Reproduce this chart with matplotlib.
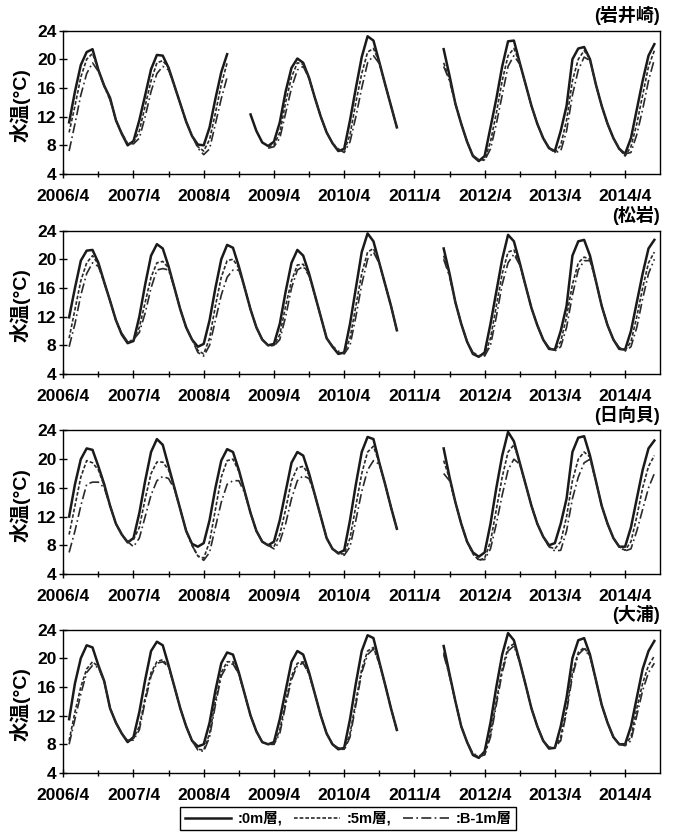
import numpy as np
import matplotlib
matplotlib.use('Agg')
import matplotlib.pyplot as plt
from matplotlib.lines import Line2D

plt.rcParams['font.family'] = ['Liberation Sans', 'Noto Sans CJK JP']

n = np.nan
G = [n] * 7  # 2011/2 - 2011/8: no observations

# monthly values, 2006/5 .. 2014/9
stations = ['(岩井崎)', '(松岩)', '(日向貝)', '(大浦)']

iwai_0 = ([11.2, 15.5, 19.2, 21.0, 21.4, 18.5, 16.3, 14.6] +
          [11.5, 9.6, 8.0, 8.6, 11.5, 15.0, 18.6, 20.6, 20.5, 18.8, 16.3, 13.8] +
          [11.3, 9.3, 8.1, 8.0, 10.5, 14.5, 18.2, 20.7, n, n, n, 12.3] +
          [10.0, 8.4, 7.9, 8.5, 11.2, 15.5, 18.8, 20.1, 19.5, 17.4, 14.6, 12.0] +
          [9.8, 8.3, 7.2, 7.5, 11.5, 16.0, 20.3, 23.2, 22.6, 19.6, 16.5, 13.5] +
          [10.5] + G + [21.4, 17.7, 13.8, 11.0] +
          [8.5, 6.5, 5.8, 6.5, 10.5, 14.5, 19.0, 22.5, 22.6, 19.5, 16.5, 13.5] +
          [11.0, 9.0, 7.6, 7.2, 10.0, 13.5, 20.0, 21.5, 21.7, 20.0, 16.5, 13.5] +
          [11.0, 9.0, 7.5, 6.8, 9.0, 13.0, 17.0, 20.5, 22.1])
iwai_5 = ([9.8, 13.5, 17.5, 20.0, 20.8, 18.5, 16.3, 14.5] +
          [11.5, 9.6, 8.2, 8.4, 10.0, 13.5, 17.0, 19.5, 19.8, 18.8, 16.3, 13.8] +
          [11.3, 9.3, 7.8, 7.2, 8.8, 12.5, 16.5, 19.5, n, n, n, n] +
          [n, n, 7.8, 8.0, 9.8, 14.0, 17.5, 19.5, 19.3, 17.4, 14.6, 12.0] +
          [9.8, 8.3, 7.3, 7.2, 9.5, 14.0, 18.0, 21.0, 21.5, 19.6, 16.5, 13.5] +
          [10.5] + G + [19.5, 17.2, 13.8, 11.0] +
          [8.5, 6.5, 5.9, 6.0, 8.5, 12.5, 17.0, 20.5, 21.5, 19.5, 16.5, 13.5] +
          [11.0, 9.0, 7.6, 7.0, 8.0, 11.5, 17.0, 20.0, 21.2, 20.0, 16.5, 13.5] +
          [11.0, 9.0, 7.5, 6.5, 7.8, 11.0, 15.0, 19.0, 21.2])
iwai_b = ([7.2, 11.0, 15.0, 18.0, 19.5, 18.3, 16.2, 14.3] +
          [11.5, 9.7, 8.3, 8.2, 9.0, 12.0, 15.5, 18.0, 19.0, 18.5, 16.2, 13.8] +
          [11.3, 9.4, 7.6, 6.7, 7.5, 11.0, 14.5, 17.5, n, n, n, n] +
          [n, n, 7.6, 7.8, 9.0, 12.5, 16.0, 18.5, 19.0, 17.3, 14.6, 12.0] +
          [9.8, 8.3, 7.5, 7.0, 8.5, 12.0, 16.0, 19.5, 20.5, 19.4, 16.5, 13.5] +
          [10.5] + G + [19.0, 17.0, 13.8, 11.0] +
          [8.5, 6.6, 6.0, 5.9, 7.5, 11.0, 15.0, 19.0, 20.5, 19.3, 16.5, 13.5] +
          [11.0, 9.0, 7.7, 7.0, 7.2, 10.0, 15.0, 18.5, 20.3, 19.8, 16.5, 13.5] +
          [11.0, 9.0, 7.6, 6.8, 7.0, 9.5, 13.0, 17.0, 20.0])

matsu_0 = ([11.9, 16.0, 19.8, 21.2, 21.3, 19.5, 16.8, 14.2] +
           [11.5, 9.5, 8.3, 8.6, 12.0, 16.5, 20.5, 22.1, 21.5, 19.0, 16.0, 13.0] +
           [10.5, 8.8, 7.8, 8.2, 11.5, 16.0, 20.0, 22.0, 21.6, 19.0, 16.0, 13.0] +
           [10.5, 8.8, 8.0, 8.2, 11.0, 15.5, 19.5, 21.3, 20.5, 18.0, 15.0, 12.0] +
           [9.0, 7.8, 6.8, 7.0, 11.0, 16.0, 21.0, 23.6, 22.5, 19.5, 16.5, 13.5] +
           [10.1] + G + [21.5, 18.0, 14.0, 11.0] +
           [8.5, 6.8, 6.4, 7.0, 11.0, 15.5, 20.0, 23.4, 22.5, 19.5, 16.3, 13.2] +
           [10.8, 8.8, 7.5, 7.4, 10.0, 13.5, 20.5, 22.5, 22.7, 20.5, 17.0, 13.5] +
           [10.8, 8.8, 7.5, 7.4, 10.0, 14.0, 18.0, 21.5, 22.7])
matsu_5 = ([9.0, 13.0, 17.0, 19.5, 20.5, 19.3, 16.8, 14.2] +
           [11.5, 9.6, 8.4, 8.8, 10.5, 14.0, 17.5, 19.5, 19.7, 18.8, 16.0, 13.0] +
           [10.5, 8.8, 7.3, 6.8, 9.0, 13.5, 17.5, 19.8, 20.0, 18.8, 16.0, 13.0] +
           [10.5, 8.8, 8.0, 8.0, 9.5, 13.5, 17.0, 19.2, 19.3, 17.8, 15.0, 12.0] +
           [9.0, 7.8, 7.0, 6.9, 9.0, 13.5, 18.0, 21.0, 21.5, 19.5, 16.5, 13.5] +
           [10.1] + G + [20.5, 17.8, 14.0, 11.0] +
           [8.5, 6.9, 6.5, 6.6, 9.0, 13.5, 18.0, 21.0, 21.3, 19.3, 16.3, 13.2] +
           [10.8, 8.8, 7.6, 7.3, 8.5, 12.0, 16.5, 19.5, 20.3, 20.0, 17.0, 13.5] +
           [10.8, 8.8, 7.6, 7.3, 8.5, 12.0, 16.0, 19.5, 21.0])
matsu_b = ([7.8, 11.0, 15.0, 18.0, 19.5, 19.0, 16.7, 14.2] +
           [11.5, 9.7, 8.5, 8.8, 9.8, 12.5, 16.0, 18.5, 18.7, 18.5, 16.0, 13.0] +
           [10.5, 8.8, 7.0, 6.5, 8.0, 11.5, 15.0, 17.5, 18.5, 18.5, 16.0, 13.0] +
           [10.5, 8.8, 8.0, 7.9, 8.8, 12.0, 16.0, 18.5, 19.0, 17.7, 15.0, 12.0] +
           [9.0, 7.9, 7.2, 6.8, 8.0, 12.0, 16.5, 20.0, 21.0, 19.4, 16.5, 13.5] +
           [10.1] + G + [20.0, 17.6, 14.0, 11.0] +
           [8.5, 7.0, 6.6, 6.5, 8.0, 12.0, 16.5, 19.5, 20.7, 19.2, 16.3, 13.2] +
           [10.8, 8.8, 7.7, 7.2, 7.8, 10.5, 15.0, 18.5, 19.8, 19.8, 17.0, 13.5] +
           [10.8, 8.8, 7.7, 7.2, 7.8, 10.5, 14.5, 18.0, 20.0])

hinata_0 = ([12.0, 16.5, 20.0, 21.5, 21.3, 19.0, 16.5, 13.5] +
            [11.0, 9.5, 8.4, 9.0, 12.5, 17.0, 21.0, 22.8, 22.0, 19.0, 16.0, 13.0] +
            [10.0, 8.2, 7.8, 8.3, 11.5, 16.0, 19.8, 21.4, 21.0, 18.5, 15.5, 12.5] +
            [10.0, 8.5, 8.0, 8.5, 11.5, 15.5, 19.5, 21.0, 20.5, 18.0, 15.0, 12.0] +
            [9.0, 7.5, 6.9, 7.3, 11.5, 16.5, 21.0, 23.1, 22.8, 19.5, 16.5, 13.3] +
            [10.3] + G + [21.5, 17.5, 14.0, 11.0] +
            [8.5, 7.0, 6.4, 7.0, 11.0, 16.0, 20.5, 23.8, 22.5, 19.5, 16.5, 13.5] +
            [11.0, 9.2, 8.0, 8.3, 11.0, 14.5, 21.0, 23.0, 23.2, 20.5, 17.0, 13.5] +
            [11.0, 9.0, 7.8, 7.8, 10.5, 14.5, 18.5, 21.5, 22.6])
hinata_5 = ([9.5, 13.5, 17.5, 19.8, 19.5, 18.5, 16.3, 13.5] +
            [11.0, 9.5, 8.5, 8.8, 10.5, 14.5, 18.0, 19.6, 19.6, 18.5, 16.0, 13.0] +
            [10.0, 8.0, 6.5, 6.2, 8.5, 13.0, 17.5, 19.8, 20.0, 18.3, 15.5, 12.5] +
            [10.0, 8.5, 8.0, 7.8, 9.5, 13.0, 17.0, 18.8, 19.0, 17.8, 15.0, 12.0] +
            [9.0, 7.5, 6.8, 6.8, 9.0, 13.5, 18.0, 21.0, 21.8, 19.5, 16.5, 13.3] +
            [10.3] + G + [19.8, 17.3, 14.0, 11.0] +
            [8.5, 6.8, 5.9, 6.2, 8.5, 13.0, 17.5, 21.0, 22.0, 19.5, 16.5, 13.5] +
            [11.0, 9.2, 7.8, 7.5, 8.5, 12.0, 17.0, 20.0, 21.0, 20.3, 17.0, 13.5] +
            [11.0, 9.0, 7.8, 7.3, 8.5, 12.0, 16.0, 19.0, 20.5])
hinata_b = ([7.0, 10.0, 13.5, 16.5, 16.8, 16.8, 16.0, 13.5] +
            [11.0, 9.5, 8.5, 7.8, 9.0, 12.0, 15.0, 17.0, 17.6, 17.3, 15.8, 13.0] +
            [10.0, 8.0, 6.5, 5.9, 7.0, 10.5, 14.0, 16.5, 17.0, 17.0, 15.3, 12.5] +
            [10.0, 8.5, 8.0, 7.5, 8.5, 11.0, 14.5, 17.0, 17.7, 17.3, 15.0, 12.0] +
            [9.0, 7.5, 6.9, 6.6, 7.8, 11.5, 15.5, 18.5, 19.8, 19.3, 16.5, 13.3] +
            [10.3] + G + [18.0, 17.0, 14.0, 11.0] +
            [8.5, 6.8, 6.0, 6.0, 7.5, 11.0, 15.0, 18.5, 20.0, 19.3, 16.5, 13.5] +
            [11.0, 9.2, 7.8, 7.2, 7.3, 10.0, 14.5, 17.5, 19.5, 20.0, 17.0, 13.5] +
            [11.0, 9.0, 7.8, 7.2, 7.5, 10.0, 13.0, 16.0, 18.0])

oura_0 = ([11.5, 16.5, 20.0, 21.8, 21.5, 19.0, 16.8, 13.0] +
          [11.0, 9.5, 8.3, 9.0, 12.5, 17.0, 21.0, 22.3, 21.8, 19.0, 16.0, 13.0] +
          [10.5, 8.5, 7.7, 8.0, 11.0, 15.5, 19.3, 20.8, 20.5, 18.0, 15.0, 12.0] +
          [9.8, 8.3, 8.0, 8.3, 11.5, 15.5, 19.5, 21.0, 20.5, 18.0, 15.0, 12.0] +
          [9.5, 8.0, 7.3, 7.5, 11.5, 16.5, 21.0, 23.2, 22.8, 19.5, 16.3, 13.0] +
          [10.0] + G + [21.7, 17.8, 14.0, 10.5] +
          [8.3, 6.5, 6.1, 7.0, 11.0, 16.0, 20.5, 23.5, 22.5, 19.5, 16.3, 13.0] +
          [10.5, 8.5, 7.4, 7.5, 10.5, 14.5, 20.0, 22.5, 22.8, 20.5, 17.0, 13.5] +
          [11.0, 9.0, 8.0, 8.0, 10.5, 14.5, 18.5, 21.0, 22.4])
oura_5 = ([8.5, 12.5, 16.0, 18.5, 19.5, 18.8, 16.8, 13.0] +
          [11.0, 9.5, 8.5, 8.8, 10.5, 14.5, 18.0, 19.5, 19.8, 18.8, 16.0, 13.0] +
          [10.5, 8.5, 7.3, 7.2, 9.5, 14.0, 18.0, 19.5, 19.5, 17.8, 15.0, 12.0] +
          [9.8, 8.3, 8.0, 8.0, 10.0, 14.0, 17.5, 19.3, 19.5, 17.8, 15.0, 12.0] +
          [9.5, 8.0, 7.4, 7.3, 9.5, 14.0, 18.5, 21.0, 21.5, 19.3, 16.3, 13.0] +
          [10.0] + G + [20.8, 17.6, 14.0, 10.5] +
          [8.3, 6.6, 6.3, 6.5, 9.5, 14.0, 18.5, 21.5, 22.0, 19.5, 16.3, 13.0] +
          [10.5, 8.5, 7.5, 7.6, 9.0, 13.0, 18.0, 20.8, 21.5, 20.3, 17.0, 13.5] +
          [11.0, 9.0, 8.0, 8.0, 9.0, 13.0, 16.5, 19.0, 20.3])
oura_b = ([8.0, 11.5, 15.0, 18.0, 19.0, 18.7, 16.7, 13.0] +
          [11.0, 9.5, 8.5, 8.6, 10.0, 14.0, 17.5, 19.3, 19.5, 18.8, 16.0, 13.0] +
          [10.5, 8.5, 7.2, 7.0, 9.0, 13.5, 17.5, 19.0, 19.2, 17.8, 15.0, 12.0] +
          [9.8, 8.3, 8.0, 8.0, 9.5, 13.5, 17.0, 19.0, 19.3, 17.8, 15.0, 12.0] +
          [9.5, 8.0, 7.5, 7.2, 9.0, 13.5, 18.0, 20.5, 21.3, 19.3, 16.3, 13.0] +
          [10.0] + G + [20.5, 17.5, 14.0, 10.5] +
          [8.3, 6.7, 6.4, 6.5, 9.0, 13.5, 18.0, 21.0, 21.7, 19.5, 16.3, 13.0] +
          [10.5, 8.5, 7.6, 7.6, 8.5, 12.5, 17.5, 20.5, 21.3, 20.2, 17.0, 13.5] +
          [11.0, 9.0, 8.0, 7.8, 8.5, 12.0, 15.5, 18.0, 19.3])

series = [(iwai_0, iwai_5, iwai_b), (matsu_0, matsu_5, matsu_b),
          (hinata_0, hinata_5, hinata_b), (oura_0, oura_5, oura_b)]

# time axis as decimal year (first of each month)
t = [y + (m - 1) / 12 for y in range(2006, 2015) for m in range(1, 13)
     if (2006, 5) <= (y, m) <= (2014, 9)]

years = list(range(2006, 2015))
ticklab = ['%d/4' % y for y in years]

fig = plt.figure(figsize=(6.73, 8.39), dpi=100)
bottoms = [0.7926, 0.5542, 0.3159, 0.0787]
styles = [dict(ls='-', lw=1.8, color='#1a1a1a'),
          dict(ls=(0, (2.2, 1.2)), lw=1.2, color='#2a2a2a'),
          dict(ls=(0, (6, 2, 1, 2)), lw=1.2, color='#2a2a2a')]

for name, data, b in zip(stations, series, bottoms):
    ax = fig.add_axes([0.094, b, 0.887, 0.171])
    for vals, st in zip(data, styles):
        ax.plot(t, np.array(vals, dtype=float), **st)
    ax.set_xlim(2006.25, 2014.75)
    ax.set_ylim(4, 24)
    ax.set_yticks([4, 8, 12, 16, 20, 24])
    ax.set_xticks([y + 0.25 for y in years])
    ax.set_xticks([y + 0.75 for y in years[:-1]], minor=True)
    ax.set_xticklabels(ticklab)
    ax.tick_params(which='both', direction='inout', length=6, width=1,
                   labelsize=12.5)
    ax.tick_params(axis='x', pad=8)
    ax.tick_params(axis='y', pad=2)
    ax.tick_params(which='minor', length=4)
    for lab in ax.get_xticklabels() + ax.get_yticklabels():
        lab.set_fontweight('bold')
    for sp in ax.spines.values():
        sp.set_linewidth(1.0)
    ax.set_ylabel('水温(°C)', fontsize=14, fontweight='bold', va='center')
    ax.yaxis.set_label_coords(-0.073, 0.48)
    ax.text(1.0, 1.04, name, transform=ax.transAxes, ha='right', va='bottom',
            fontsize=13, fontweight='bold')

handles = [Line2D([], [], **st) for st in styles]
fig.legend(handles, [':0m層,', ':5m層,', ':B-1m層'], loc='center',
           bbox_to_anchor=(0.517, 0.0245), ncol=3, fancybox=False,
           edgecolor='black', framealpha=1, handlelength=3.2,
           handletextpad=0.4, columnspacing=0.8, borderpad=0.3,
           prop={'size': 10.5, 'weight': 'bold'})

fig.savefig('out.png', dpi=100)
